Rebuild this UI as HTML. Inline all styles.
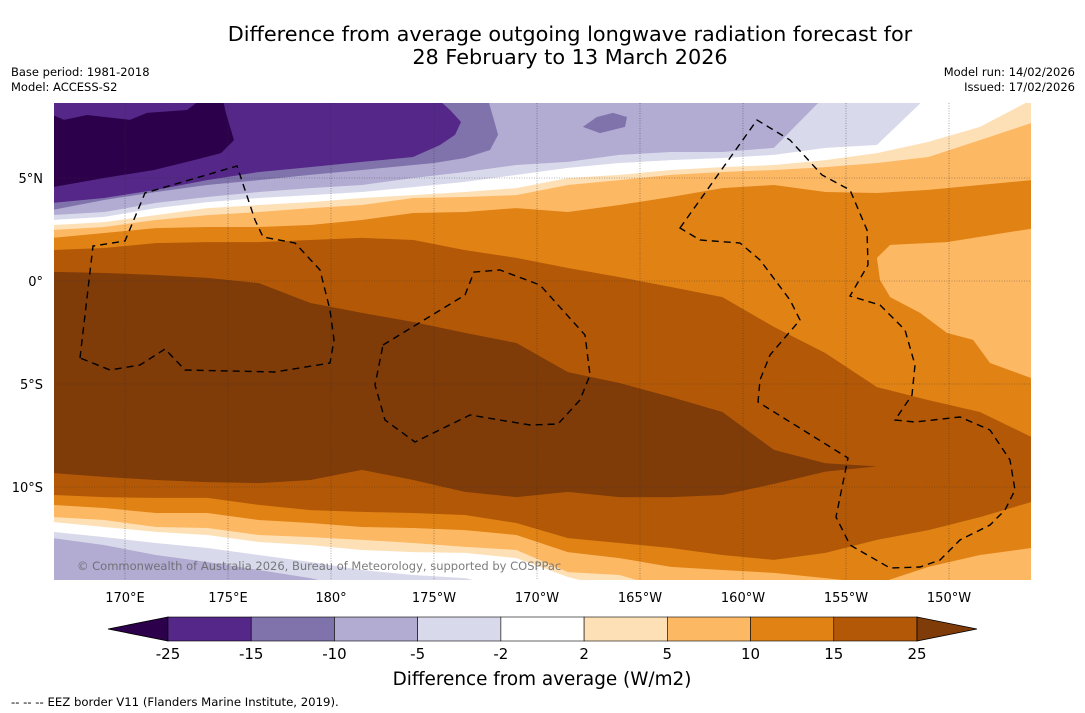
<!DOCTYPE html>
<html><head><meta charset="utf-8"><style>
html,body{margin:0;padding:0;background:#fff;}
svg{display:block;font-family:"DejaVu Sans","Liberation Sans",sans-serif;}
</style></head><body>
<svg id="root" width="1085" height="713" viewBox="0 0 1085 713" xmlns="http://www.w3.org/2000/svg">
<defs><clipPath id="mapclip"><rect x="54" y="103" width="977" height="477"/></clipPath></defs>
<text x="570" y="41" font-size="20.8" text-anchor="middle" fill="#000">Difference from average outgoing longwave radiation forecast for</text>
<text x="570" y="64" font-size="20.8" text-anchor="middle" fill="#000">28 February to 13 March 2026</text>
<text x="11" y="76" font-size="11.5">Base period: 1981-2018</text>
<text x="11" y="91" font-size="11.5">Model: ACCESS-S2</text>
<text x="1075" y="76" font-size="11.5" text-anchor="end">Model run: 14/02/2026</text>
<text x="1075" y="91" font-size="11.5" text-anchor="end">Issued: 17/02/2026</text>
<g id="map" clip-path="url(#mapclip)"></g>
<g id="axes"></g>
<g id="cbar"></g>
<text x="542" y="685" font-size="18.4" text-anchor="middle">Difference from average (W/m2)</text>
<text x="11" y="706" font-size="11.7">--  --  -- EEZ border V11 (Flanders Marine Institute, 2019).</text>
</svg>
<script>
const lons = [166.5,169,171.5,174,176.5,179,181.5,184,186.5,189,191.5,194,196.5,199,201.5,204,206.5,209,211.5,214];
const cM5N = [3.20,3.35,3.79,4.08,4.32,4.51,4.66,5.00,5.29,5.63,5.78,6.12,6.26,6.26,6.46,9,9,9,9,9];
const cM5S = [-12.48,-12.82,-13.30,-13.64,-14.03,-14.42,-15,-15,-15,-15,-15,-15,-15,-15,-15,-15,-15,-15,-15,-15];
const cM2N = [2.96,3.11,3.54,3.83,4.03,4.17,4.32,4.56,4.81,5.15,5.49,5.73,5.87,5.97,6.12,6.46,6.60,9,9,9];
const cM2S = [-12.18,-12.43,-12.72,-12.96,-13.30,-13.64,-14.03,-14.27,-14.42,-15,-15,-15,-15,-15,-15,-15,-15,-15,-15,-15];
const cP2N = [2.72,2.86,3.20,3.54,3.69,3.83,4.03,4.17,4.32,4.51,5.00,5.15,5.39,5.53,5.63,5.87,6.21,6.75,7.48,8.79];
const cP2S = [-11.70,-11.94,-12.18,-12.33,-12.67,-12.82,-13.06,-13.16,-13.20,-13.45,-14.37,-15,-15,-15,-15,-15,-15,-15,-15,-15];
const cP5N = [2.48,2.62,2.96,3.20,3.35,3.54,3.69,4.03,4.08,4.17,4.66,4.90,5.15,5.29,5.39,5.53,5.73,6.02,6.84,7.67];
const cP5S = [-11.46,-11.60,-11.94,-11.99,-12.33,-12.43,-12.57,-12.72,-12.91,-13.06,-14.13,-14.27,-15,-15,-15,-15,-15,-15,-15,-15];
const cP10N = [2.09,2.33,2.57,2.62,2.62,2.72,2.96,3.30,3.35,3.54,3.35,3.69,4.08,4.51,4.66,4.32,4.27,4.42,4.66,4.90];
const cP10S = [-10.87,-11.02,-11.26,-11.26,-11.60,-11.75,-11.94,-11.99,-12.09,-12.33,-13.16,-13.45,-13.88,-14.03,-14.17,-14.42,-14.7,-13.88,-13.30,-12.96];
const cP15N = [1.50,1.60,1.84,1.89,1.89,1.99,2.09,1.99,1.50,1.12,0.63,0.19,-0.29,-0.78,-2.23,-3.50,-5.15,-5.78,-6.36,-7.57];
const cP15S = [-10.39,-10.49,-10.53,-10.53,-10.87,-11.12,-11.21,-11.26,-11.36,-11.75,-12.48,-12.72,-12.96,-13.30,-13.54,-13.20,-12.57,-12.09,-11.46,-10.73];
const cP25N = [0.44,0.39,0.29,0.15,-0.10,-1.07,-1.55,-1.99,-2.52,-3.01,-4.42,-4.95,-5.63,-6.36,-8.20,-8.85,-9.0,-9.0,-9.0,-9.0];
const cP25S = [-9.32,-9.51,-9.66,-9.76,-9.81,-9.66,-9.17,-9.66,-10.24,-10.49,-10.24,-10.49,-10.49,-10.39,-9.85,-9.25,-9.0,-9.0,-9.0,-9.0];
const blobALon = [166.5,187.57,187.91,188.11,187.72,186.50,185.0,181.50,178.98,176.50,173.98,171.50,168.98,166.5];
const blobALat = [9,9,7.82,7.09,6.36,5.97,5.73,5.39,5.15,4.90,4.66,4.32,3.93,3.45];
const blobBLon = [166.5,185.0,185.78,186.31,186.02,185.29,183.98,181.50,178.98,176.50,173.98,171.50,168.98,166.5];
const blobBLat = [9,9,8.30,7.72,7.09,6.60,6.02,5.78,5.53,5.29,4.90,4.42,4.03,3.79];
const blobCLon = [166.5,167.04,168.16,170.24,171.07,173.01,173.93,174.71,174.90,175.29,174.66,173.35,171.41,168.98,166.5];
const blobCLat = [8.06,7.82,8.06,7.82,8.16,8.30,9,9,8.16,6.84,6.21,5.87,5.39,5.00,4.56];
const blobDLon = [192.23,192.91,193.69,194.37,194.27,193.06];
const blobDLat = [7.48,7.96,8.16,7.96,7.48,7.18];
const blobELon = [206.50,207.14,209.90,214.5,214.5,211.99,211.17,209.90,208.59,207.14,206.65];
const blobELat = [1.12,1.75,1.89,2.62,-4.90,-3.98,-2.86,-2.52,-1.55,-0.78,0.05];
const lonTicks = [170,175,180,185,190,195,200,205,210];
const lonTickLabels = ["170°E","175°E","180°","175°W","170°W","165°W","160°W","155°W","150°W"];
const latTicks = [5,0,-5,-10];
const latTickLabels = ["5°N","0°","5°S","10°S"];
const cbarColors = ["#2d004b","#542788","#8073ac","#b2abd2","#d8daeb","#ffffff","#fee0b6","#fdb863","#e08214","#b35806","#7f3b08"];
const cbarLabels = ["-25","-15","-10","-5","-2","2","5","10","15","25"];

const NS="http://www.w3.org/2000/svg";
function xOf(lon){return 125+(lon-170)*20.6;}
function yOf(lat){return 281-lat*20.6;}
function mk(tag,attrs,parent){const e=document.createElementNS(NS,tag);for(const k in attrs)e.setAttribute(k,attrs[k]);parent.appendChild(e);return e;}
const map=document.getElementById('map');
const base=mk('rect',{x:54,y:103,width:977,height:477,fill:'#b2abd2'},map);


function blob(lo,la,fill,name){
  const pts=lo.map((v,i)=>xOf(v).toFixed(1)+','+yOf(la[i]).toFixed(1)).join(' ');
  const p=mk('polygon',{points:pts,fill:fill},map);
  
  
}
function band(n,s,fill,name){
  const a=lons.map((v,i)=>xOf(v).toFixed(1)+','+yOf(n[i]).toFixed(1));
  const b=lons.map((v,i)=>xOf(v).toFixed(1)+','+yOf(s[i]).toFixed(1)).reverse();
  const p=mk('polygon',{points:a.concat(b).join(' '),fill:fill},map);
  
  
}
blob(blobALon,blobALat,'#8073ac','anomaly-region-minus15');
blob(blobBLon,blobBLat,'#542788','anomaly-region-minus25');
blob(blobCLon,blobCLat,'#2d004b','anomaly-region-below-minus25');
blob(blobDLon,blobDLat,'#8073ac','anomaly-patch-minus15');
band(cM5N,cM5S,'#d8daeb','contour-band-minus5');
band(cM2N,cM2S,'#ffffff','contour-band-minus2');
band(cP2N,cP2S,'#fee0b6','contour-band-2');
band(cP5N,cP5S,'#fdb863','contour-band-5');
band(cP10N,cP10S,'#e08214','contour-band-10');
blob(blobELon,blobELat,'#fdb863','anomaly-patch-5');
band(cP15N,cP15S,'#b35806','contour-band-15');
band(cP25N,cP25S,'#7f3b08','contour-band-25');
lonTicks.forEach(l=>{const g=mk('line',{x1:xOf(l),x2:xOf(l),y1:103,y2:580,stroke:'#333','stroke-width':0.6,'stroke-dasharray':'1,1.5','stroke-opacity':0.7},map);

});
latTicks.forEach(l=>{const g=mk('line',{x1:54,x2:1031,y1:yOf(l),y2:yOf(l),stroke:'#333','stroke-width':0.6,'stroke-dasharray':'1,1.5','stroke-opacity':0.7},map);

});
const eez=["M80,358 L93,246 L125,241 L145,193 L237,166 L255,220 L263,237 L295,243 L320,270 L330,310 L334,340 L330,363 L275,372 L185,370 L165,349 L140,365 L110,370 Z",
"M383,345 L465,295 L474,272 L500,270 L540,285 L585,335 L590,375 L580,400 L558,424 L530,425 L470,415 L415,442 L385,420 L375,385 Z",
"M680,228 L757,120 L790,140 L822,175 L850,190 L867,230 L868,265 L850,296 L880,305 L905,330 L915,365 L912,395 L895,420 L915,422 L960,417 L990,430 L1010,460 L1015,490 L1005,510 L990,525 L960,540 L940,560 L920,567 L890,568 L850,545 L836,517 L848,458 L758,402 L760,380 L770,355 L800,320 L790,300 L760,260 L740,243 L700,240 Z"];
eez.forEach(d=>{const p=mk('path',{d:d,fill:'none',stroke:'#000','stroke-width':1.4,'stroke-dasharray':'7,5'},map);

});
const cr=mk('text',{x:77,y:570,'font-size':11.5,fill:'#666','fill-opacity':0.85},map);
cr.textContent='© Commonwealth of Australia 2026, Bureau of Meteorology, supported by COSPPac';


const axes=document.getElementById('axes');
lonTicks.forEach((l,i)=>{const t=mk('text',{x:xOf(l),y:602,'font-size':13,'text-anchor':'middle'},axes);t.textContent=lonTickLabels[i];

});
latTicks.forEach((l,i)=>{const t=mk('text',{x:43,y:yOf(l)+5,'font-size':13,'text-anchor':'end'},axes);t.textContent=latTickLabels[i];

});
const cb=document.getElementById('cbar');
const cx0=168,cx1=917,cy=617,ch=24,cw=(cx1-cx0)/(cbarLabels.length-1);
const lt=mk('polygon',{points:`${cx0},${cy} ${108},${cy+ch/2} ${cx0},${cy+ch}`,fill:cbarColors[0],stroke:'#000','stroke-width':0.8},cb);


for(let i=0;i<cbarLabels.length-1;i++){const r=mk('rect',{x:cx0+i*cw,y:cy,width:cw,height:ch,fill:cbarColors[i+1],stroke:'#000','stroke-width':0.6},cb);

}
const rt=mk('polygon',{points:`${cx1},${cy} ${977},${cy+ch/2} ${cx1},${cy+ch}`,fill:cbarColors[cbarColors.length-1],stroke:'#000','stroke-width':0.8},cb);


cbarLabels.forEach((s,i)=>{const t=mk('text',{x:cx0+i*cw,y:659,'font-size':15,'text-anchor':'middle'},cb);t.textContent=s;

});
</script>
</body></html>
